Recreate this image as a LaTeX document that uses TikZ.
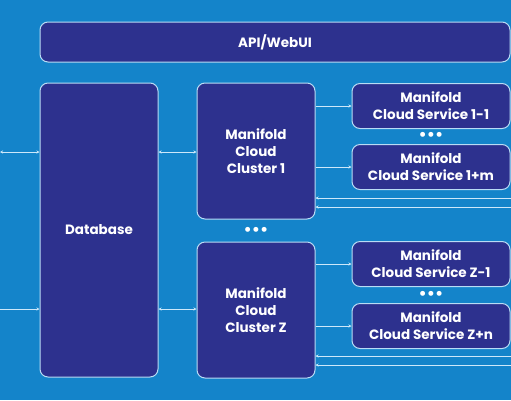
\documentclass[tikz,border=0pt]{standalone}
\usepackage{fontspec}
\setmainfont{Poppins}
\usepackage{tikz}
\usetikzlibrary{arrows, positioning, arrows.meta}

\definecolor{bgblue}{RGB}{20,132,202}
\definecolor{boxblue}{RGB}{45,49,142}
\definecolor{rimblue}{RGB}{185,220,245}
\definecolor{wireblue}{RGB}{205,232,250}

\begin{document}
\begin{tikzpicture}[x=1pt, y=-1pt, thick,
    every node/.style={text=white, font=\fontsize{13.5}{17}\selectfont\bfseries, align=center},
    block/.style={draw=rimblue, line width=1pt, fill=boxblue, rounded corners=8pt, inner sep=0pt},
    wire/.style={draw=wireblue, line width=1pt, -{Stealth[length=3pt, width=3pt]}},
    dots/.style={font=\fontsize{20}{20}\selectfont, inner sep=0pt}]

    % Background
    \fill[bgblue] (0,0) rectangle (511,400);
    \useasboundingbox (0,0) rectangle (511,400);

    %Nodes
    \node[block, minimum width=470pt, minimum height=40pt] (api) at (275,42) {API/WebUI};
    \node[block, minimum width=118pt, minimum height=294pt] (db) at (99,230) {Database};
    \node[block, minimum width=118pt, minimum height=136pt] (cl1) at (256,151) {Manifold\\Cloud\\Cluster 1};
    \node[block, minimum width=118pt, minimum height=136pt] (clz) at (256,310) {Manifold\\Cloud\\Cluster Z};
    \node[dots] (dotsc) at (256,232) {\textbullet\textbullet\textbullet};

    \node[block, minimum width=158pt, minimum height=45pt] (s11) at (431,106) {Manifold\\Cloud Service 1-1};
    \node[block, minimum width=158pt, minimum height=45pt] (s1m) at (431,167) {Manifold\\Cloud Service 1+m};
    \node[dots] (dots1) at (431,137) {\textbullet\textbullet\textbullet};
    \node[block, minimum width=158pt, minimum height=45pt] (sz1) at (431,264) {Manifold\\Cloud Service Z-1};
    \node[block, minimum width=158pt, minimum height=45pt] (szn) at (431,326) {Manifold\\Cloud Service Z+n};
    \node[dots] (dotsz) at (431,296) {\textbullet\textbullet\textbullet};

    % Free ends
    \coordinate (in1) at (0,152);
    \coordinate (inz) at (0,309);
    \coordinate (r1a) at (511,198);
    \coordinate (r1b) at (511,207);
    \coordinate (rza) at (511,356);
    \coordinate (rzb) at (511,365);

    % Edges
    \draw[wire, {Stealth[length=3pt, width=3pt]}-{Stealth[length=3pt, width=3pt]}] (in1) to (in1 -| db.west);
    \draw[wire] (inz) to (inz -| db.west);
    \draw[wire, {Stealth[length=3pt, width=3pt]}-{Stealth[length=3pt, width=3pt]}] (in1 -| db.east) to (in1 -| cl1.west);
    \draw[wire, {Stealth[length=3pt, width=3pt]}-{Stealth[length=3pt, width=3pt]}] (inz -| db.east) to (inz -| clz.west);

    \draw[wire] (cl1.east |- s11) to (s11.west);
    \draw[wire] (cl1.east |- s1m) to (s1m.west);
    \draw[wire] (clz.east |- sz1) to (sz1.west);
    \draw[wire] (clz.east |- szn) to (szn.west);

    \draw[wire] (r1a) to (r1a -| cl1.east);
    \draw[wire] (r1b) to (r1b -| cl1.east);
    \draw[wire] (rza) to (rza -| clz.east);
    \draw[wire] (rzb) to (rzb -| clz.east);

\end{tikzpicture}
\end{document}
